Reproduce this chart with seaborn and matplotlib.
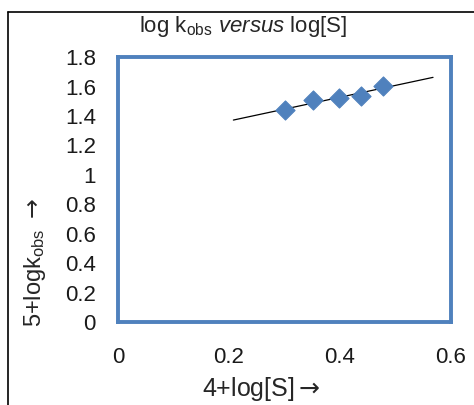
import numpy as np
import pandas as pd
import matplotlib
matplotlib.use("Agg")
import matplotlib.pyplot as plt
from matplotlib.lines import Line2D
import seaborn as sns

# 4+log[S] and 5+log kobs
log_s = [0.301, 0.352, 0.398, 0.439, 0.477]
log_k = [1.441, 1.507, 1.520, 1.536, 1.604]
x_ticks = [0, 0.2, 0.4, 0.6]
y_ticks = [0, 0.2, 0.4, 0.6, 0.8, 1, 1.2, 1.4, 1.6, 1.8]

df = pd.DataFrame({"x": log_s, "y": log_k})

# linear trendline, extended a bit on both sides like Excel's forecast
slope, intercept = np.polyfit(df["x"], df["y"], 1)
fit = pd.DataFrame({"x": [min(log_s) - 0.093, max(log_s) + 0.091]})
fit["y"] = slope * fit["x"] + intercept

sns.set_style("white")
plt.rcParams["font.family"] = ["Liberation Sans", "DejaVu Sans"]
plt.rcParams["mathtext.fontset"] = "custom"
plt.rcParams["mathtext.rm"] = "Liberation Sans"
plt.rcParams["mathtext.it"] = "Liberation Sans:italic"
plt.rcParams["mathtext.sf"] = "DejaVu Sans"  # used for the arrows

blue = "#4F81BD"
fig = plt.figure(figsize=(4.74, 4.05), dpi=100)
ax = fig.add_axes([0.249, 0.205, 0.702, 0.654])

sns.lineplot(data=fit, x="x", y="y", color="black", linewidth=0.9, ax=ax)
sns.scatterplot(data=df, x="x", y="y", marker="D", s=95, color=blue,
                edgecolor=blue, ax=ax, zorder=3)

ax.set_xlim(0, 0.6)
ax.set_ylim(0, 1.8)
ax.set_xticks(x_ticks)
ax.set_yticks(y_ticks)
ax.set_xticklabels(["%g" % v for v in x_ticks])
ax.set_yticklabels(["%g" % v for v in y_ticks])
ax.tick_params(axis="both", direction="out", length=5, width=1, color="#868686",
               labelsize=16, labelcolor="#1a1a1a")
ax.tick_params(axis="x", pad=13)
ax.tick_params(axis="y", pad=11)
for sp in ax.spines.values():
    sp.set_color(blue)
    sp.set_linewidth(2.8)
    sp.set_visible(True)

ax.set_xlabel("")
ax.set_ylabel("")
fig.text(0.551, 0.04, r"4+log[S]$\mathsf{\rightarrow}$", ha="center", va="center",
         fontsize=18)
fig.text(0.074, 0.353, r"5+logk$_{\mathrm{obs}}$ $\mathsf{\rightarrow}$", rotation=90,
         ha="center", va="center", fontsize=17)
fig.text(0.513, 0.935, r"log k$_{\mathrm{obs}}$ $\mathit{versus}$ log[S]",
         ha="center", va="center", fontsize=16)

# outer chart frame (top and left edges only visible in the crop)
fig.add_artist(Line2D([8 / 474, 1], [1 - 12 / 405, 1 - 12 / 405],
                      transform=fig.transFigure, color="black", linewidth=1.2))
fig.add_artist(Line2D([8 / 474, 8 / 474], [0, 1 - 12 / 405],
                      transform=fig.transFigure, color="black", linewidth=1.2))

fig.savefig("out.png", dpi=100)
